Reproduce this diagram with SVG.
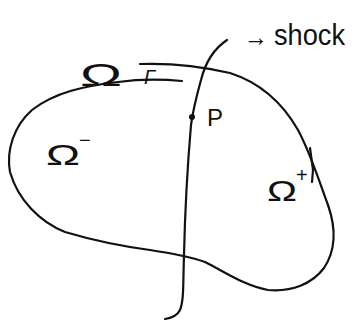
<svg xmlns="http://www.w3.org/2000/svg" width="355" height="322" viewBox="0 0 355 322">
<style>
.ln{fill:none;stroke:#111;stroke-width:2.2;stroke-linecap:round;stroke-linejoin:round}
.t{font-family:"Liberation Sans","DejaVu Sans",sans-serif;fill:#111}
</style>
<rect width="355" height="322" fill="#fff"/>
<g id="domain">
<path class="ln" d="M140,64 C170,63 200,66 230,73 C258,82 282,102 298,130 C310,152 318,178 328,205 C336,228 336,250 324,268 C312,284 292,292 268,290 C245,286 225,272 205,262 C188,256 170,253 150,250 C120,246 92,240 65,232 C40,222 18,200 10,172 C6,150 14,126 32,110 C55,92 85,86 118,82 C140,79 160,79 182,81"/>
<path class="ln" d="M310,148 L313,170 L312,182"/>
</g>
<g id="shock">
<path class="ln" d="M227,40 C215,48 206,60 201,80 C196,98 193,110 191,125 C188,160 185,210 184,255 C183,285 184,300 180,310 C177,316 172,318 165,319"/>
<circle cx="192" cy="117" r="3" fill="#111"/>
</g>
<g id="labels">
<text class="t" x="80" y="86" font-size="32" textLength="42" lengthAdjust="spacingAndGlyphs">Ω</text>
<text class="t" x="144" y="84" font-size="20" font-style="italic">Γ</text>
<text class="t" x="46" y="165" font-size="30" textLength="34" lengthAdjust="spacingAndGlyphs">Ω</text>
<text class="t" x="79" y="147" font-size="20">−</text>
<text class="t" x="267" y="201" font-size="30" textLength="30" lengthAdjust="spacingAndGlyphs">Ω</text>
<text class="t" x="296" y="182" font-size="20">+</text>
<text class="t" x="207" y="126" font-size="24">P</text>
<text class="t" x="244" y="46" font-size="26" textLength="24" lengthAdjust="spacingAndGlyphs">→</text>
<text class="t" x="274" y="45" font-size="30" textLength="71" lengthAdjust="spacingAndGlyphs">shock</text>
</g>
</svg>
